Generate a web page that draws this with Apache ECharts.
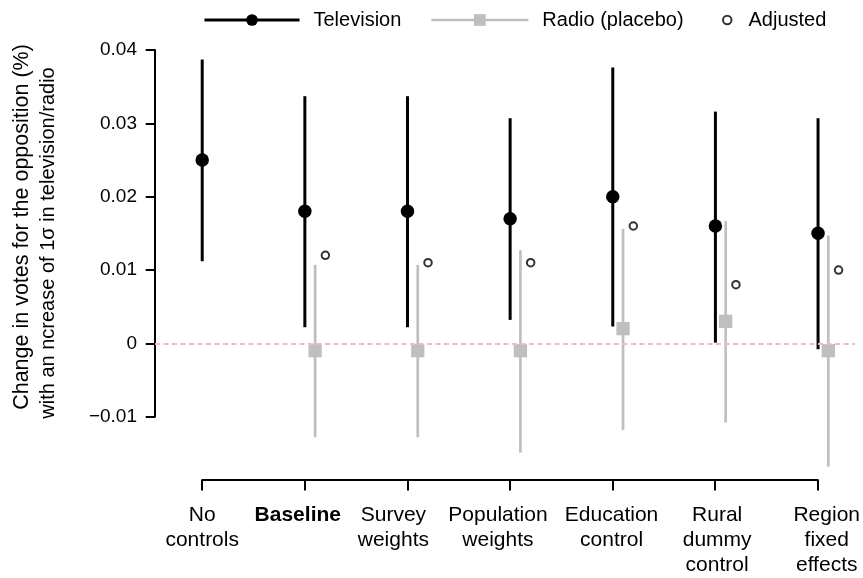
<!DOCTYPE html>
<html>
<head>
<meta charset="utf-8">
<script src="https://cdn.jsdelivr.net/npm/echarts@6/dist/echarts.min.js"></script>
<style>html,body{margin:0;padding:0;background:#fff}#c{width:863px;height:578px}</style>
</head>
<body>
<div id="c"></div>
<script>
// ---- data ----
const categories = ['No\ncontrols', 'Baseline', 'Survey\nweights', 'Population\nweights', 'Education\ncontrol', 'Rural\ndummy\ncontrol', 'Region\nfixed\neffects'];
const tvEst   = [0.025, 0.018, 0.018, 0.017, 0.020, 0.016, 0.015];
const tvLow   = [0.0112, 0.0022, 0.0022, 0.0032, 0.0023, 0.0001, -0.0008];
const tvHigh  = [0.0387, 0.0337, 0.0337, 0.0307, 0.0376, 0.0316, 0.0307];
const radioEst  = [null, -0.001, -0.001, -0.001, 0.002, 0.003, -0.001];
const radioLow  = [null, -0.0128, -0.0128, -0.0149, -0.0118, -0.0108, -0.0168];
const radioHigh = [null, 0.0107, 0.0107, 0.0127, 0.0156, 0.0167, 0.0147];
const adjusted  = [null, 0.012, 0.011, 0.011, 0.016, 0.008, 0.010];
const yTicks = [-0.01, 0, 0.01, 0.02, 0.03, 0.04];

// ---- layout / style ----
const radioOffset = 0.1, adjOffset = 0.2;
const labelShift = [0, -7, -14, -12, -1, 2, 9];
const FONT = "'Liberation Sans', Arial, Helvetica, sans-serif";
const GRAY = '#bfbfbf';

const tvPts = tvEst.map((v, i) => [i + 1, v]);
const tvBars = tvEst.map((v, i) => [i + 1, tvLow[i], tvHigh[i]]);
const radioPts = radioEst.map((v, i) => v == null ? null : [i + 1 + radioOffset, v]).filter(Boolean);
const radioBars = radioEst.map((v, i) => v == null ? null : [i + 1 + radioOffset, radioLow[i], radioHigh[i]]).filter(Boolean);
const adjPts = adjusted.map((v, i) => v == null ? null : [i + 1 + adjOffset, v]).filter(Boolean);

function barRenderer(color, width) {
  return function (params, api) {
    const p1 = api.coord([api.value(0), api.value(1)]);
    const p2 = api.coord([api.value(0), api.value(2)]);
    return { type: 'line', shape: { x1: p1[0], y1: p1[1], x2: p2[0], y2: p2[1] },
      style: { stroke: color, lineWidth: width, lineCap: 'butt' } };
  };
}

const rich = {};
labelShift.forEach((d, i) => {
  rich['l' + i] = {
    fontSize: 21, lineHeight: 25, color: '#000', fontFamily: FONT,
    fontWeight: i === 1 ? 'bold' : 'normal',
    padding: d >= 0 ? [0, 0, 0, 2 * d] : [0, -2 * d, 0, 0]
  };
});

const chart = echarts.init(document.getElementById('c'), null, { renderer: 'canvas' });
chart.setOption({
  backgroundColor: '#fff',
  animation: false,
  textStyle: { fontFamily: FONT },
  grid: [
    { left: 155, right: 8, top: 50, bottom: 161.3 },
    { left: 202.2, right: 44.9, top: 50, bottom: 161.3 }
  ],
  xAxis: [
    { gridIndex: 0, type: 'value', min: 0.54, max: 7.36, show: false },
    { gridIndex: 1, type: 'category', data: categories, boundaryGap: false, position: 'bottom', offset: 65.3,
      axisLine: { show: true, onZero: false, lineStyle: { color: '#000', width: 2 } },
      axisTick: { show: true, length: 10.5, lineStyle: { color: '#000', width: 2 } },
      axisLabel: { interval: 0, margin: 23, fontSize: 21, lineHeight: 25, color: '#000',
        formatter: (value, index) => value.split('\n').map(s => '{l' + index + '|' + s + '}').join('\n'),
        rich: rich },
      splitLine: { show: false } }
  ],
  yAxis: [
    { gridIndex: 0, type: 'value', min: yTicks[0], max: yTicks[yTicks.length - 1], interval: 0.01,
      axisLine: { show: true, onZero: false, lineStyle: { color: '#000', width: 2 } },
      axisTick: { show: true, length: 9.3, lineStyle: { color: '#000', width: 2 } },
      axisLabel: { margin: 18, fontSize: 19, color: '#000',
        formatter: v => Math.abs(v) < 1e-9 ? '0' : (v < 0 ? '\u2212' : '') + Math.abs(v).toFixed(2) },
      splitLine: { show: false } },
    { gridIndex: 1, type: 'value', min: yTicks[0], max: yTicks[yTicks.length - 1], show: false }
  ],
  legend: [
    { data: ['Television'], left: 203, top: 10, padding: 0, itemWidth: 95, itemHeight: 14.6,
      textStyle: { fontSize: 20, color: '#000', padding: [0, 0, 0, 9] },
      lineStyle: { width: 3, color: '#000', opacity: 1 } },
    { data: ['Radio (placebo)'], left: 430, top: 10, padding: 0, itemWidth: 97, itemHeight: 14.6,
      textStyle: { fontSize: 20, color: '#000', padding: [0, 0, 0, 9] },
      lineStyle: { width: 2.7, color: GRAY, opacity: 1 } },
    { data: ['Adjusted'], left: 722, top: 10, padding: 0, itemWidth: 8.5, itemHeight: 8.5,
      textStyle: { fontSize: 20, color: '#000', padding: [0, 0, 0, 12] } }
  ],
  graphic: [
    { type: 'text', x: 22, y: 227, rotation: Math.PI / 2, silent: true,
      style: { text: 'Change in votes for the opposition (%)', fontSize: 21.5, fontFamily: FONT, fill: '#000', align: 'center', verticalAlign: 'middle' } },
    { type: 'text', x: 48, y: 243, rotation: Math.PI / 2, silent: true,
      style: { text: 'with an ncrease of 1\u03c3 in television/radio', fontSize: 20, fontFamily: FONT, fill: '#000', align: 'center', verticalAlign: 'middle' } }
  ],
  series: [
    { name: 'zero', type: 'line', xAxisIndex: 0, yAxisIndex: 0, data: [], silent: true, z: 1,
      markLine: { silent: true, symbol: 'none', label: { show: false },
        lineStyle: { color: '#ffb8b8', width: 2, type: [5, 3.5] },
        data: [{ yAxis: 0 }] } },
    { name: 'tvBars', type: 'custom', xAxisIndex: 0, yAxisIndex: 0, clip: false, z: 2,
      renderItem: barRenderer('#000', 3), data: tvBars },
    { name: 'radioBars', type: 'custom', xAxisIndex: 0, yAxisIndex: 0, clip: false, z: 2,
      renderItem: barRenderer(GRAY, 2.7), data: radioBars },
    { name: 'Television', type: 'line', xAxisIndex: 0, yAxisIndex: 0, data: tvPts, clip: false, z: 3,
      symbol: 'circle', symbolSize: 13.5, showAllSymbol: true,
      itemStyle: { color: '#000' }, lineStyle: { width: 3, color: '#000', opacity: 0 } },
    { name: 'Radio (placebo)', type: 'line', xAxisIndex: 0, yAxisIndex: 0, data: radioPts, clip: false, z: 3,
      symbol: 'rect', symbolSize: 13.3, showAllSymbol: true,
      itemStyle: { color: GRAY }, lineStyle: { width: 2.7, color: GRAY, opacity: 0 } },
    { name: 'Adjusted', type: 'scatter', xAxisIndex: 0, yAxisIndex: 0, data: adjPts, clip: false, z: 3,
      symbol: 'circle', symbolSize: 7.5,
      itemStyle: { color: '#fff', borderColor: '#000', borderWidth: 2 } }
  ]
});
</script>
</body>
</html>
